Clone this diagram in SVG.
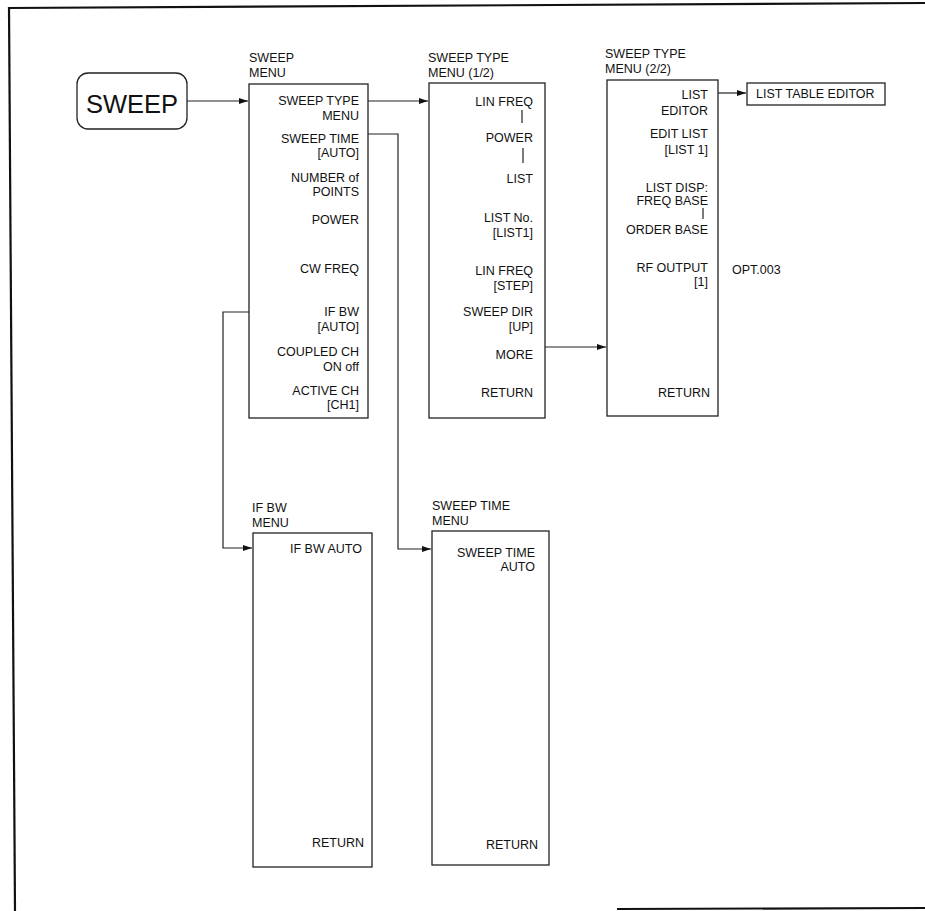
<svg xmlns="http://www.w3.org/2000/svg" width="925" height="911" viewBox="0 0 925 911">
<style>
text{font-family:"Liberation Sans",Arial,Helvetica,sans-serif;font-size:12.5px;fill:#111}
.r{text-anchor:end}
.box{fill:#fff;stroke:#222;stroke-width:1.3}
.ln{fill:none;stroke:#222;stroke-width:1.2}
.frame{fill:none;stroke:#111;stroke-width:2.2}
</style>
<defs>
<marker id="ah" markerWidth="9" markerHeight="6" refX="9" refY="3" orient="auto" markerUnits="userSpaceOnUse">
<path d="M0,0 L9,3 L0,6 z" fill="#111"/>
</marker>
</defs>
<rect x="0" y="0" width="925" height="911" fill="#fff"/>
<g id="frame">
<line class="frame" x1="8" y1="8" x2="925" y2="3"/>
<line class="frame" x1="9" y1="7" x2="15" y2="911"/>
<line class="frame" x1="617" y1="909" x2="925" y2="908"/>
</g>
<g id="sweep-key">
<rect class="box" x="77" y="73" width="110" height="56" rx="11"/>
<text x="132" y="113" text-anchor="middle" style="font-size:25.5px">SWEEP</text>
</g>
<g id="sweep-menu">
<text x="249" y="62">SWEEP</text>
<text x="249" y="77">MENU</text>
<rect class="box" x="249" y="84" width="119" height="334"/>
<text class="r" x="359" y="105">SWEEP TYPE</text>
<text class="r" x="359" y="120">MENU</text>
<text class="r" x="359" y="143">SWEEP TIME</text>
<text class="r" x="359" y="157">[AUTO]</text>
<text class="r" x="359" y="182">NUMBER of</text>
<text class="r" x="359" y="196">POINTS</text>
<text class="r" x="359" y="224">POWER</text>
<text class="r" x="359" y="273">CW FREQ</text>
<text class="r" x="359" y="316">IF BW</text>
<text class="r" x="359" y="331">[AUTO]</text>
<text class="r" x="359" y="356">COUPLED CH</text>
<text class="r" x="359" y="371">ON off</text>
<text class="r" x="359" y="395">ACTIVE CH</text>
<text class="r" x="359" y="409">[CH1]</text>
</g>
<g id="sweep-type-menu-1">
<text x="428" y="62">SWEEP TYPE</text>
<text x="428" y="77">MENU (1/2)</text>
<rect class="box" x="429" y="83" width="116" height="335"/>
<text class="r" x="533" y="106">LIN FREQ</text>
<line class="ln" x1="522" y1="110" x2="522" y2="123"/>
<text class="r" x="533" y="142">POWER</text>
<line class="ln" x1="523" y1="148" x2="523" y2="163"/>
<text class="r" x="533" y="183">LIST</text>
<text class="r" x="533" y="222">LIST No.</text>
<text class="r" x="533" y="237">[LIST1]</text>
<text class="r" x="533" y="275">LIN FREQ</text>
<text class="r" x="533" y="290">[STEP]</text>
<text class="r" x="533" y="316">SWEEP DIR</text>
<text class="r" x="533" y="331">[UP]</text>
<text class="r" x="533" y="359">MORE</text>
<text class="r" x="533" y="397">RETURN</text>
</g>
<g id="sweep-type-menu-2">
<text x="605" y="58">SWEEP TYPE</text>
<text x="605" y="73">MENU (2/2)</text>
<rect class="box" x="607" y="80" width="111" height="336"/>
<text class="r" x="708" y="99">LIST</text>
<text class="r" x="708" y="115">EDITOR</text>
<text class="r" x="708" y="138">EDIT LIST</text>
<text class="r" x="708" y="154">[LIST 1]</text>
<text class="r" x="708" y="192">LIST DISP:</text>
<text class="r" x="708" y="205">FREQ BASE</text>
<line class="ln" x1="703" y1="208" x2="703" y2="219"/>
<text class="r" x="708" y="234">ORDER BASE</text>
<text class="r" x="708" y="272">RF OUTPUT</text>
<text class="r" x="708" y="286">[1]</text>
<text class="r" x="710" y="397">RETURN</text>
</g>
<g id="opt-note">
<text x="732" y="274">OPT.003</text>
</g>
<g id="list-table-editor">
<rect class="box" x="747" y="83" width="138" height="22"/>
<text x="756" y="98">LIST TABLE EDITOR</text>
</g>
<g id="if-bw-menu">
<text x="252" y="512">IF BW</text>
<text x="252" y="527">MENU</text>
<rect class="box" x="253" y="533" width="119" height="334"/>
<text class="r" x="362" y="553">IF BW AUTO</text>
<text class="r" x="364" y="847">RETURN</text>
</g>
<g id="sweep-time-menu">
<text x="432" y="510">SWEEP TIME</text>
<text x="432" y="525">MENU</text>
<rect class="box" x="432" y="531" width="117" height="334"/>
<text class="r" x="535" y="557">SWEEP TIME</text>
<text class="r" x="535" y="571">AUTO</text>
<text class="r" x="538" y="849">RETURN</text>
</g>
<g id="connectors">
<line class="ln" x1="187" y1="101" x2="248" y2="101" marker-end="url(#ah)"/>
<line class="ln" x1="368" y1="101" x2="428" y2="101" marker-end="url(#ah)"/>
<line class="ln" x1="718" y1="93" x2="746" y2="93" marker-end="url(#ah)"/>
<line class="ln" x1="545" y1="347" x2="606" y2="347" marker-end="url(#ah)"/>
<polyline class="ln" points="368,134 398,134 398,549 431,549" marker-end="url(#ah)"/>
<polyline class="ln" points="249,312 223,312 223,548 252,548" marker-end="url(#ah)"/>
</g>
</svg>
